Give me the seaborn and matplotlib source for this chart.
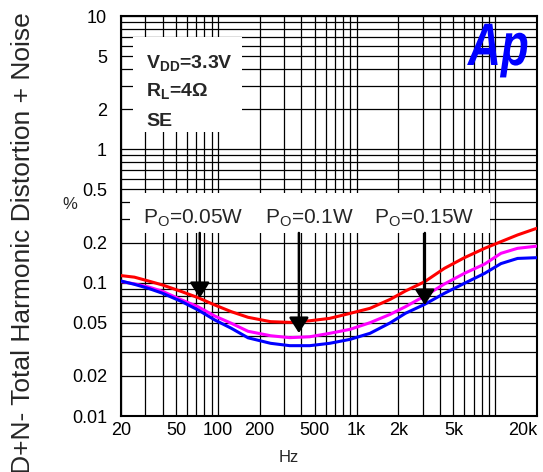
import numpy as np
import pandas as pd
import matplotlib
matplotlib.use('Agg')
import matplotlib.pyplot as plt
import seaborn as sns
from matplotlib.ticker import FixedLocator, LogLocator, NullFormatter
from matplotlib.patches import Rectangle, PathPatch
from matplotlib.textpath import TextPath
from matplotlib.font_manager import FontProperties
from matplotlib.transforms import Affine2D

# THD+N vs frequency
freq = [20, 25, 31.5, 40, 55, 72, 95, 125, 165, 240, 330, 460, 640, 900,
        1250, 1750, 2250, 3100, 4300, 6000, 8400, 11000, 14500, 20000]
thd_005w = [0.113, 0.110, 0.103, 0.096, 0.0856, 0.0772, 0.068, 0.0606, 0.055, 0.051,
            0.0504, 0.0518, 0.054, 0.0589, 0.0642, 0.075, 0.0866, 0.1017, 0.128,
            0.154, 0.181, 0.203, 0.228, 0.256]
thd_01w = [0.102, 0.098, 0.093, 0.086, 0.0741, 0.066, 0.0562, 0.0496, 0.0432, 0.040,
           0.0387, 0.0393, 0.0417, 0.0447, 0.0501, 0.0579, 0.066, 0.0794, 0.0977,
           0.1175, 0.138, 0.166, 0.181, 0.188]
thd_015w = [0.103, 0.0972, 0.0907, 0.0832, 0.072, 0.0624, 0.0525, 0.0455, 0.0386,
            0.0351, 0.0337, 0.0337, 0.0351, 0.0376, 0.0417, 0.050, 0.0589, 0.0688,
            0.0832, 0.0989, 0.1175, 0.139, 0.152, 0.154]
power_names = ['0.05W', '0.1W', '0.15W']
line_colors = ['#ff0000', '#ff00ff', '#0000ff']

xtick_vals = [20, 50, 100, 200, 500, 1000, 2000, 5000, 20000]
xtick_labels = ['20', '50', '100', '200', '500', '1k', '2k', '5k', '20k']
ytick_vals = [0.01, 0.02, 0.05, 0.1, 0.2, 0.5, 1, 2, 5, 10]
ytick_labels = ['0.01', '0.02', '0.05', '0.1', '0.2', '0.5', '1', '2', '5', '10']

sns.set_style('white')
plt.rcParams['font.family'] = ['Liberation Sans', 'DejaVu Sans']
plt.rcParams['mathtext.fontset'] = 'custom'
plt.rcParams['mathtext.rm'] = 'Liberation Sans'
plt.rcParams['mathtext.bf'] = 'Liberation Sans:bold'

df = pd.DataFrame({
    'Hz': freq * 3,
    'thd': thd_005w + thd_01w + thd_015w,
    'Po': [p for p in power_names for _ in freq],
})

fig = plt.figure(figsize=(5.43, 4.72), dpi=100)
ax = fig.add_axes([0.2228, 0.1186, 0.766, 0.8475])

sns.lineplot(data=df, x='Hz', y='thd', hue='Po', palette=line_colors, lw=2.2,
             legend=False, ax=ax, sort=False, estimator=None, zorder=3)

ax.set_xscale('log')
ax.set_yscale('log')
ax.set_xlim(20, 20000)
ax.set_ylim(0.01, 10)

ax.xaxis.set_major_locator(FixedLocator(xtick_vals))
ax.set_xticklabels(xtick_labels)
ax.xaxis.set_minor_locator(LogLocator(base=10, subs=np.arange(1, 10)))
ax.xaxis.set_minor_formatter(NullFormatter())
ax.yaxis.set_major_locator(FixedLocator(ytick_vals))
ax.set_yticklabels(ytick_labels)
ax.yaxis.set_minor_locator(LogLocator(base=10, subs=np.arange(1, 10)))
ax.yaxis.set_minor_formatter(NullFormatter())

ax.tick_params(which='both', length=0, labelsize=13, colors='black')
ax.tick_params(axis='y', pad=10)
ax.tick_params(axis='x', pad=4)
# keep the last frequency label inside the figure
ax.get_xticklabels()[-1].set_horizontalalignment('right')

ax.set_axisbelow(True)
ax.grid(which='both', color='black', lw=0.9)
for s in ax.spines.values():
    s.set_color('black')
    s.set_linewidth(1.5)

ax.set_xlabel('Hz', fontsize=12)
ax.xaxis.set_label_coords(0.404, -0.085)
ax.set_ylabel('%', fontsize=12, rotation=0)
ax.yaxis.set_label_coords(-0.123, 0.51)

fig.text(0.042, 0.975, 'THD+N- Total Harmonic Distortion + Noise', rotation=90,
         ha='center', va='top', fontsize=19)

# conditions box
ax.add_patch(Rectangle((0.029, 0.71), 0.262, 0.2375, transform=ax.transAxes,
                       facecolor='white', edgecolor='none', zorder=2))
cond_kw = dict(transform=ax.transAxes, fontsize=14, fontweight='bold', zorder=4)
ax.text(0.06, 0.868, r'V$_{\mathbf{DD}}$=3.3V', **cond_kw)
ax.text(0.06, 0.798, r'R$_{\mathbf{L}}$=4Ω', **cond_kw)
ax.text(0.06, 0.725, 'SE', **cond_kw)

# power labels with arrows
ax.add_patch(Rectangle((0.0216, 0.4575), 0.8654, 0.10, transform=ax.transAxes,
                       facecolor='white', edgecolor='none', zorder=2))
for lab_x, name in zip([66, 457, 3090], power_names):
    ax.text(lab_x, 0.28, r'P$_{\rm O}$=' + name, ha='center', va='baseline',
            fontsize=15, zorder=4)
for arr_x, tip_y in zip([74, 384, 3110], [0.0767, 0.0419, 0.068]):
    ax.annotate('', xy=(arr_x, tip_y), xytext=(arr_x, 0.236),
                arrowprops=dict(arrowstyle='-|>,head_length=0.47,head_width=0.3',
                                color='black', lw=1.8, mutation_scale=20,
                                shrinkA=0, shrinkB=0),
                zorder=5)

# "Ap" logo, narrowed like the original
logo = TextPath((0, 0), 'Ap', size=60,
                prop=FontProperties(family='Liberation Sans', weight='bold', style='italic'))
fig.add_artist(PathPatch(logo, transform=Affine2D().scale(0.76, 1.0).translate(468, 407),
                         facecolor='#0000ff', edgecolor='none'))

fig.savefig('out.png', dpi=100)
